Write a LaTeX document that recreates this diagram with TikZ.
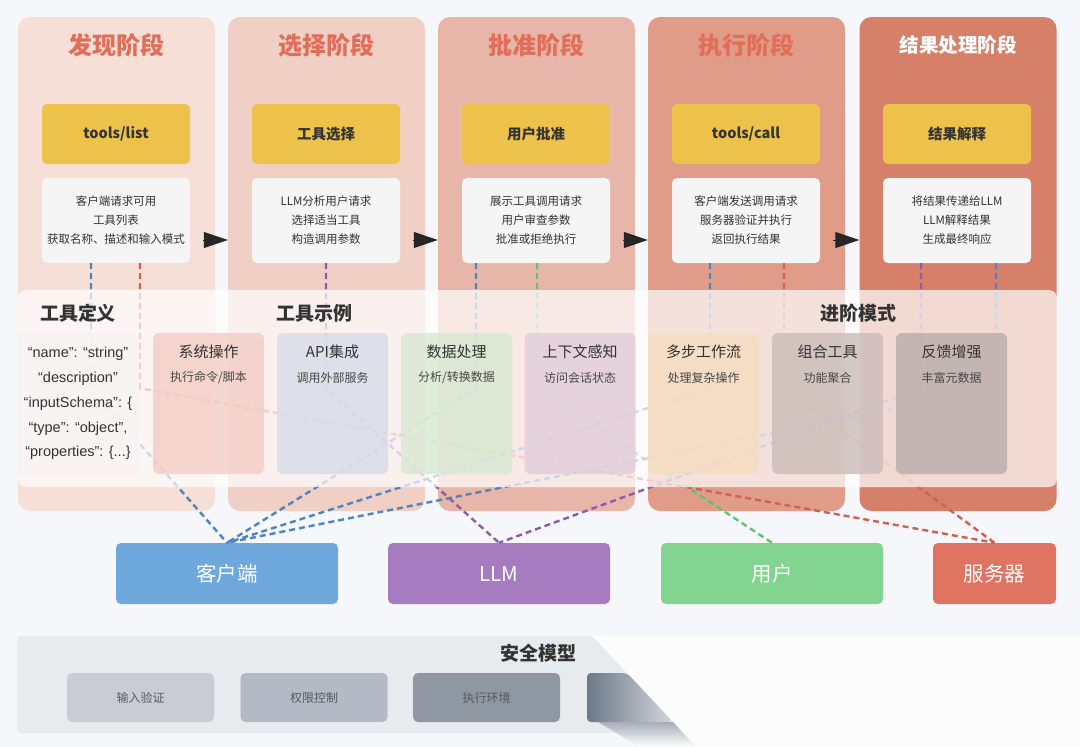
\documentclass[tikz,border=0pt]{standalone}
\usepackage{fontspec}
\setmainfont{Noto Sans CJK SC}
\newfontfamily\codefont{Liberation Sans}
\usetikzlibrary{arrows.meta,positioning,calc,shapes.geometric}

\definecolor{pgbg}    {HTML}{F5F7FA}
\definecolor{phA}     {HTML}{F5DFD7}
\definecolor{phB}     {HTML}{F0CFC5}
\definecolor{phC}     {HTML}{E8B6A9}
\definecolor{phD}     {HTML}{E09C89}
\definecolor{phE}     {HTML}{D6806A}
\definecolor{phtitle} {HTML}{E06E58}
\definecolor{keyfill} {HTML}{EDC24B}
\definecolor{notefill}{HTML}{F5F5F5}
\definecolor{ink}     {HTML}{333333}
\definecolor{actclient}{HTML}{6FA8DC}
\definecolor{actllm}  {HTML}{A77BC0}
\definecolor{actuser} {HTML}{83D391}
\definecolor{actserver}{HTML}{E07463}
\definecolor{lkblue}  {HTML}{4C84C4}
\definecolor{lkpurple}{HTML}{8E5AAE}
\definecolor{lkgreen} {HTML}{5EC46F}
\definecolor{lkred}   {HTML}{D0604F}
\definecolor{exA}     {HTML}{F2CCC4}
\definecolor{exB}     {HTML}{D6DCE8}
\definecolor{exC}     {HTML}{D7E8D2}
\definecolor{exD}     {HTML}{E1CDDA}
\definecolor{exE}     {HTML}{F4DCBF}
\definecolor{exF}     {HTML}{CBBCB9}
\definecolor{exG}     {HTML}{BAACAB}
\definecolor{codefill}{HTML}{F7F4F3}
\definecolor{secfill} {HTML}{E8EBEE}
\definecolor{secA}    {HTML}{C9CDD3}
\definecolor{secB}    {HTML}{B3BAC5}
\definecolor{secC}    {HTML}{8F97A3}
\definecolor{secD}    {HTML}{6C7889}

\tikzset{
  phase/.style={rounded corners=12pt, minimum width=197pt, minimum height=494pt, inner sep=0pt},
  phasetitle/.style={font=\fontsize{24}{28}\selectfont\bfseries, text=phtitle},
  keybox/.style={fill=keyfill, rounded corners=5pt, minimum width=148pt, minimum height=60pt,
                 font=\fontsize{14.5}{18}\selectfont\bfseries, text=ink},
  notebox/.style={fill=notefill, rounded corners=5pt, minimum width=148pt, minimum height=85pt,
                  align=center, font=\fontsize{11.5}{19}\selectfont, text=ink},
  flow/.style={-{Triangle[length=24pt,width=16pt]}, line width=1pt, black!85, shorten <=13pt},
  link/.style={dash pattern=on 6pt off 4pt, line width=2.4pt},
  actor/.style={rounded corners=5pt, minimum height=61pt, text=white,
                font=\fontsize{20.5}{24}\selectfont},
  heading/.style={font=\fontsize{19}{22}\selectfont\bfseries, text=ink},
  example/.style={rounded corners=6pt, minimum width=111pt, minimum height=141pt, fill opacity=0.8},
  extitle/.style={font=\fontsize{15}{18}\selectfont, text=ink},
  exsub/.style={font=\fontsize{12}{14}\selectfont, text=ink!90},
  guard/.style={rounded corners=5pt, minimum width=147pt, minimum height=49pt,
                font=\fontsize{12}{14}\selectfont, text=black!65}
}

\begin{document}
\begin{tikzpicture}[x=1pt,y=-1pt]
  \fill[pgbg] (0,0) rectangle (1080,747);

  % five phases
  \foreach \n/\x/\c in {1/116.5/phA, 2/326.5/phB, 3/536.5/phC, 4/746.5/phD, 5/958/phE}
    \node[phase, fill=\c] (p\n) at (\x,264) {};
  \node[phasetitle] (t1) at (116.5,45) {发现阶段};
  \node[phasetitle] (t2) at (326.5,45) {选择阶段};
  \node[phasetitle] (t3) at (536.5,45) {批准阶段};
  \node[phasetitle] (t4) at (746.5,45) {执行阶段};
  \node[phasetitle, text=white, font=\fontsize{19.5}{22}\selectfont\bfseries] (t5) at (958,45) {结果处理阶段};

  \foreach \n/\x/\t in {1/116/{tools/list}, 2/326/工具选择, 3/536/用户批准, 4/746/{tools/call}, 5/957/结果解释}
    \node[keybox] (k\n) at (\x,134) {\t};

  \foreach \n/\x/\t in {1/116/{客户端请求可用\\工具列表\\获取名称、描述和输入模式},
                        2/326/{LLM分析用户请求\\选择适当工具\\构造调用参数},
                        3/536/{展示工具调用请求\\用户审查参数\\批准或拒绝执行},
                        4/746/{客户端发送调用请求\\服务器验证并执行\\返回执行结果},
                        5/957/{将结果传递给LLM\\LLM解释结果\\生成最终响应}}
    \node[notebox] (d\n) at (\x,220.5) {\t};

  \foreach \a/\b in {1/2, 2/3, 3/4, 4/5}
    \draw[flow] ([yshift=-19.5pt]d\a.east) -- ([yshift=-19.5pt]d\a.east -| p\b.west);

  % actors
  \node[actor, fill=actclient, minimum width=222pt] (client) at (227,573.5) {客户端};
  \node[actor, fill=actllm, minimum width=222pt] (llm) at (499,573.5) {LLM};
  \node[actor, fill=actuser, minimum width=222pt] (user) at (772,573.5) {用户};
  \node[actor, fill=actserver, minimum width=123pt] (server) at (994.5,573.5) {服务器};

  % who takes part in each phase
  \foreach \a/\s/\t/\c in {1/-25/client/lkblue, 1/24/server/lkred, 2/0/llm/lkpurple,
                           3/-60/client/lkblue, 3/1/user/lkgreen, 4/-36/client/lkblue,
                           4/38/server/lkred, 5/-36/llm/lkpurple, 5/39/client/lkblue}
    \draw[link, draw=\c] ([xshift=\s pt]d\a.south) -- ++(0,125) -- (\t.north);

  % patterns overlay
  \node[fill=white, fill opacity=0.7, rounded corners=8pt, minimum width=1039pt,
        minimum height=197pt] (patterns) at (537.5,388.5) {};
  \node[heading] (defhead) at (78,313) {工具定义};
  \node[heading] (exhead) at (314,313) {工具示例};
  \node[heading] (advhead) at (858,313) {进阶模式};

  \node[fill=codefill, fill opacity=0.92, text opacity=1, rounded corners=6pt,
        minimum width=122pt, minimum height=141pt, align=center, text=ink,
        font=\codefont\fontsize{14.5}{24.8}\selectfont] (code) at (78,403.5)
    {“name”: “string”\\“description”\\“inputSchema”: \{\\“type”: “object”,\\“properties”: \{...\}};

  \foreach \n/\x/\c/\t/\s in {1/208.5/exA/系统操作/{执行命令/脚本}, 2/332.5/exB/API集成/调用外部服务,
                              3/456.5/exC/数据处理/{分析/转换数据}, 4/580/exD/上下文感知/访问会话状态,
                              5/703.5/exE/多步工作流/处理复杂操作, 6/827.5/exF/组合工具/功能聚合,
                              7/951.5/exG/反馈增强/丰富元数据}
  {
    \node[example, fill=\c] (ex\n) at (\x,403.5) {};
    \node[extitle] at ([yshift=-19pt]ex\n.north) {\t};
    \node[exsub] at ([yshift=-45pt]ex\n.north) {\s};
  }

  % security model
  \fill[white, opacity=0.75] (592,636) -- (1080,636) -- (1080,747) -- (696,747) -- cycle;
  \fill[secfill, rounded corners=4pt] (17,636) -- (592,636) -- (683,733) -- (17,733) -- cycle;
  \node[heading] (sechead) at (538,653) {安全模型};
  \node[guard, fill=secA] (g1) at (140.5,697.5) {输入验证};
  \node[guard, fill=secB] (g2) at (314,697.5) {权限控制};
  \node[guard, fill=secC] (g3) at (486.5,697.5) {执行环境};
  \path[left color=secD, right color=secD!30!white, rounded corners=4pt]
    (587,673) -- (627,673) -- (673,722) -- (587,722) -- cycle;
  \path[top color=secD!60!white, bottom color=white]
    (598,722) -- (673,722) -- (696,747) -- (640,747) -- cycle;
\end{tikzpicture}
\end{document}
